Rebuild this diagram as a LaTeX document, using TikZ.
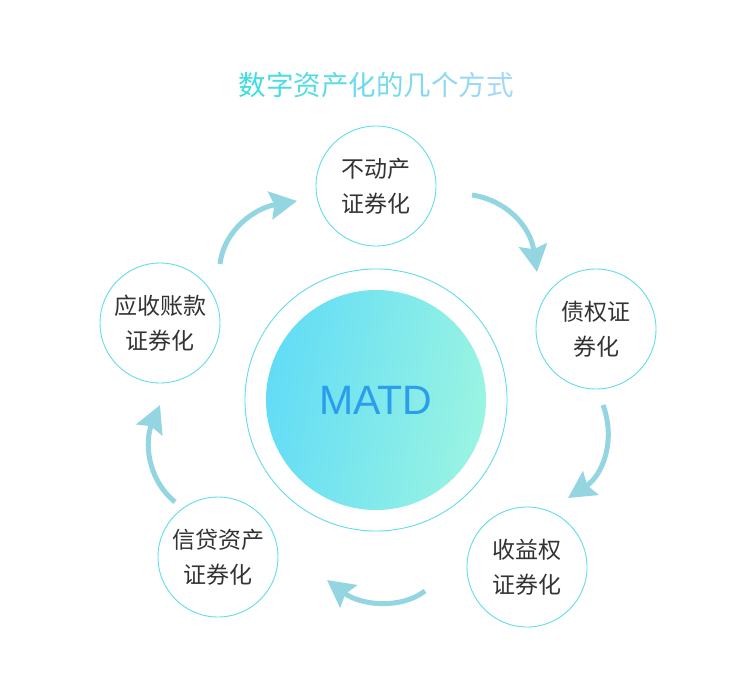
\documentclass[tikz,border=0pt]{standalone}
\usepackage{fontspec}
\setmainfont{Noto Sans CJK SC}
\newfontfamily\latinfont{Liberation Sans}
\usetikzlibrary{arrows.meta, shadings}
\definecolor{cring}{HTML}{62DDEC}
\definecolor{ctext}{HTML}{333333}
\definecolor{carrow}{HTML}{93D6E1}
\definecolor{cleft}{HTML}{62DCF6}
\definecolor{cright}{HTML}{9AF4E2}
\definecolor{cmatd}{HTML}{2B9DEB}
\definecolor{ctitleA}{HTML}{3CDDE0}
\definecolor{ctitleB}{HTML}{A4D8FA}
\tikzset{
  every picture/.style={line width=1pt},
  kind/.style={circle, draw=cring, line width=0.9pt, minimum size=120pt, inner sep=0pt,
    align=center, text=ctext, font=\fontsize{23}{35}\selectfont},
  flow/.style={-{Stealth[length=27pt, width=28pt, inset=4pt]}, draw=carrow, line width=5pt},
  title/.style={font=\fontsize{27.5}{30}\selectfont},
}
\begin{document}
\begin{tikzpicture}[x=1pt, y=-1pt]
  % canvas: 1pt = 1px, origin top left
  \fill[white] (0,0) rectangle (754,679);
  \useasboundingbox (0,0) rectangle (754,679);
  % title, coloured char by char
  \node[title] (head) at (376,85) {\foreach \c [count=\i from 0] in {数,字,资,产,化,的,几,个,方,式}{%
      \pgfmathtruncatemacro\p{100-\i*11}\textcolor{ctitleA!\p!ctitleB}{\c}}};
  % centre
  \node[circle, draw=cring, line width=0.9pt, minimum size=262pt] (ring) at (376,400) {};
  \node[circle, minimum size=220pt, left color=cleft, right color=cright, shading angle=80,
    text=cmatd, font=\latinfont\fontsize{41}{41}\selectfont] (matd) at (376,400) {MATD};
  % the five ways
  \node[kind] (estate) at (376,186) {不动产\\证券化};
  \node[kind] (debt) at (596,329) {债权证\\券化};
  \node[kind] (income) at (527,567) {收益权\\证券化};
  \node[kind] (credit) at (218,557) {信贷资产\\证券化};
  \node[kind] (recv) at (160,323) {应收账款\\证券化};
  % arrow ends
  \coordinate (s1) at (472,195); \coordinate (e1) at (537,272);
  \coordinate (s2) at (603,405); \coordinate (e2) at (568,498);
  \coordinate (s3) at (425,591); \coordinate (e3) at (327,580);
  \coordinate (s4) at (175,502); \coordinate (e4) at (160,405);
  \coordinate (s5) at (220,264); \coordinate (e5) at (297,201);
  \draw[flow] (s1) .. controls (505,200) and (530,225) .. (e1);
  \draw[flow] (s2) .. controls (616,440) and (603,475) .. (e2);
  \draw[flow] (s3) .. controls (400,610) and (360,605) .. (e3);
  \draw[flow] (s4) .. controls (146,478) and (145,440) .. (e4);
  \draw[flow] (s5) .. controls (224,230) and (255,208) .. (e5);
\end{tikzpicture}
\end{document}
